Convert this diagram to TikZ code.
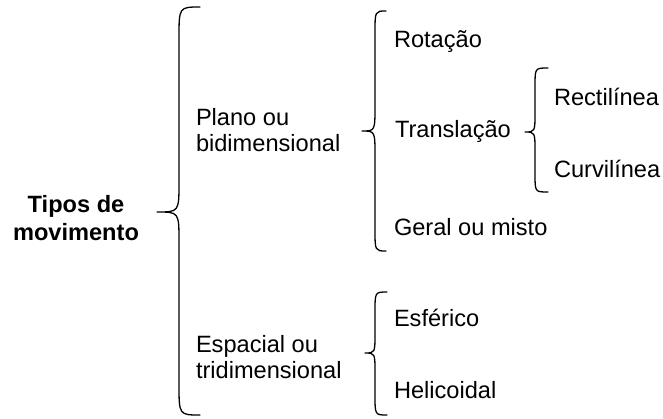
\documentclass[tikz,border=0pt]{standalone}
\usepackage{fontspec}
\setmainfont{Liberation Sans}
\begin{document}
\begin{tikzpicture}[x=1pt,y=-1pt,
  lbl/.style={inner sep=0pt,outer sep=0pt,anchor=base west,font=\fontsize{23.6}{26}\selectfont},
  lbl2/.style={inner sep=0pt,outer sep=0pt,anchor=north west,align=left,font=\fontsize{23.6}{26}\selectfont},
  root/.style={inner sep=0pt,outer sep=0pt,anchor=north,align=center,font=\bfseries\fontsize{23.6}{28}\selectfont},
  bracepath/.style={draw=black,line width=1.3pt,line cap=round,line join=round}]
\useasboundingbox (0,0) rectangle (663,418);
% root
\node[root] (tipos) at (76,195) {Tipos de\\movimento};
% level 1
\node[lbl2] (plano) at (196,108) {Plano ou\\bidimensional};
\node[lbl2] (espacial) at (196,335) {Espacial ou\\tridimensional};
% level 2
\node[lbl] (rot) at (394,47) {Rotação};
\node[lbl] (trans) at (395,137) {Translação};
\node[lbl] (geral) at (394,235) {Geral ou misto};
\node[lbl] (esf) at (394,326) {Esférico};
\node[lbl] (heli) at (394,398) {Helicoidal};
% level 3
\node[lbl] (rect) at (554,105) {Rectilínea};
\node[lbl] (curv) at (554,177) {Curvilínea};
% braces
\path[bracepath] (200,7) .. controls (179,7) .. (179,38) -- (179,182) .. controls (179,212) .. (157,212) .. controls (179,212) .. (179,242) -- (179,384) .. controls (179,415) .. (200,415);
\path[bracepath] (386,11) .. controls (375,11) .. (375,33) -- (375,106) .. controls (375,131) .. (362,131) .. controls (375,131) .. (375,156) -- (375,229) .. controls (375,251) .. (386,251);
\path[bracepath] (548,68) .. controls (535,68) .. (535,86) -- (535,112) .. controls (535,132) .. (525,132) .. controls (535,132) .. (535,152) -- (535,174) .. controls (535,192) .. (548,192);
\path[bracepath] (387,292) .. controls (375,292) .. (375,312) -- (375,333) .. controls (375,353) .. (365,353) .. controls (375,353) .. (375,373) -- (375,395) .. controls (375,415) .. (387,415);
\end{tikzpicture}
\end{document}
